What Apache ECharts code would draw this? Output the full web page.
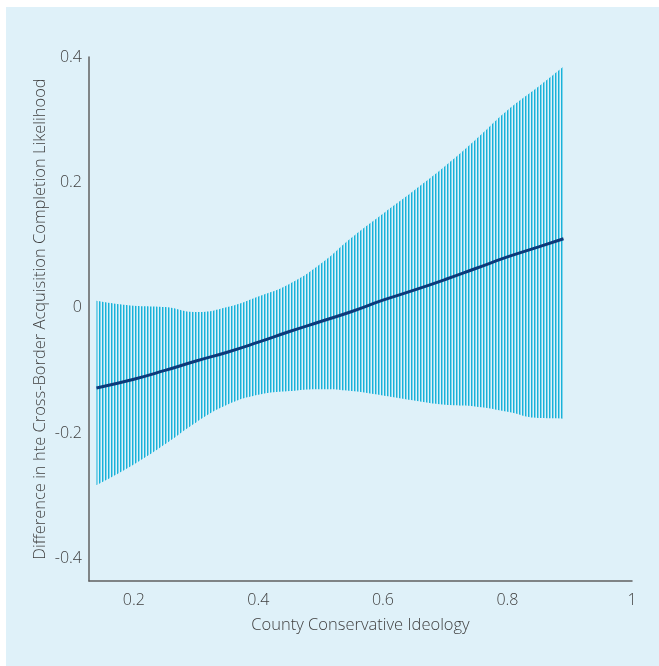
<!DOCTYPE html>
<html>
<head>
<meta charset="utf-8">
<script src="https://cdn.jsdelivr.net/npm/echarts@6/dist/echarts.min.js"></script>
<style>
  html, body { margin: 0; padding: 0; background: #ffffff; width: 659px; height: 666px; overflow: hidden; }
  #chart { position: absolute; left: 6px; top: 7px; width: 653px; height: 659px; background: #dff1f9; }
</style>
</head>
<body>
<div id="chart"></div>
<script>
// Data
const xValues = [0.14, 0.2, 0.25, 0.3, 0.35, 0.4, 0.45, 0.5, 0.55, 0.6, 0.65, 0.7, 0.75, 0.8, 0.85, 0.89];
const meanValues = [-0.128, -0.114, -0.100, -0.085, -0.071, -0.055, -0.038, -0.022, -0.006, 0.012, 0.028, 0.045, 0.063, 0.081, 0.097, 0.110];
const upperValues = [0.011, 0.003, 0.001, -0.007, 0.001, 0.018, 0.038, 0.070, 0.112, 0.150, 0.187, 0.226, 0.269, 0.315, 0.353, 0.385];
const lowerValues = [-0.283, -0.250, -0.218, -0.183, -0.155, -0.139, -0.133, -0.130, -0.133, -0.140, -0.148, -0.155, -0.158, -0.166, -0.176, -0.177];
const xTickLabels = [0.2, 0.4, 0.6, 0.8, 1];
const yTickLabels = [-0.4, -0.2, 0, 0.2, 0.4];

// hatch pattern: vertical thin lines
const pat = document.createElement('canvas');
pat.width = 3; pat.height = 4;
const pctx = pat.getContext('2d');
pctx.fillStyle = '#19b1d8'; pctx.fillRect(0, 0, 1, 4);
pctx.fillStyle = '#80d5ec'; pctx.fillRect(1, 0, 1, 4);

// data stored as [value, x] so the stack runs on the value dimension
const lowerData = xValues.map((x, i) => [lowerValues[i], x]);
const bandData = xValues.map((x, i) => [upperValues[i] - lowerValues[i], x]);
const meanData = xValues.map((x, i) => [meanValues[i], x]);

const font = 'Open Sans';
const fw = 300;
const chart = echarts.init(document.getElementById('chart'), null, { renderer: 'canvas' });
chart.setOption({
  animation: false,
  backgroundColor: 'transparent',
  grid: { left: 83, right: 27, top: 50, bottom: 85, containLabel: false },
  xAxis: {
    type: 'value', min: 0.128, max: 1, z: 10,
    name: 'County Conservative Ideology', nameLocation: 'middle', nameGap: 36, nameMoveOverlap: false,
    nameTextStyle: { fontFamily: font, fontWeight: fw, fontSize: 16.5, color: '#404040' },
    axisLine: { show: true, onZero: false, lineStyle: { color: '#606060', width: 1.5 } },
    axisTick: { show: false },
    splitLine: { show: false },
    axisLabel: { customValues: xTickLabels, fontFamily: font, fontWeight: fw, fontSize: 16, color: '#404040', margin: 11 }
  },
  yAxis: {
    type: 'value', min: -0.436, max: 0.4, z: 10,
    name: 'Difference in hte Cross-Border Acquisition Completion Likelihood', nameLocation: 'middle', nameGap: 40, nameMoveOverlap: false,
    nameTextStyle: { fontFamily: font, fontWeight: fw, fontSize: 16.5, color: '#404040' },
    axisLine: { show: true, onZero: false, lineStyle: { color: '#606060', width: 1.5 } },
    axisTick: { show: false },
    splitLine: { show: false },
    axisLabel: { customValues: yTickLabels, fontFamily: font, fontWeight: fw, fontSize: 16, color: '#404040', margin: 7 }
  },
  series: [
    { type: 'line', data: lowerData, encode: { x: 1, y: 0 }, stack: 'band', stackStrategy: 'all',
      smooth: true, symbol: 'none', lineStyle: { opacity: 0 }, silent: true },
    { type: 'line', data: bandData, encode: { x: 1, y: 0 }, stack: 'band', stackStrategy: 'all',
      smooth: true, symbol: 'none', lineStyle: { opacity: 0 },
      areaStyle: { color: { image: pat, repeat: 'repeat' }, opacity: 1 }, silent: true },
    { type: 'line', data: meanData, encode: { x: 1, y: 0 }, smooth: true, symbol: 'none', z: 5,
      lineStyle: { color: '#0d3a7a', width: 3 } }
  ]
});
</script>
</body>
</html>
